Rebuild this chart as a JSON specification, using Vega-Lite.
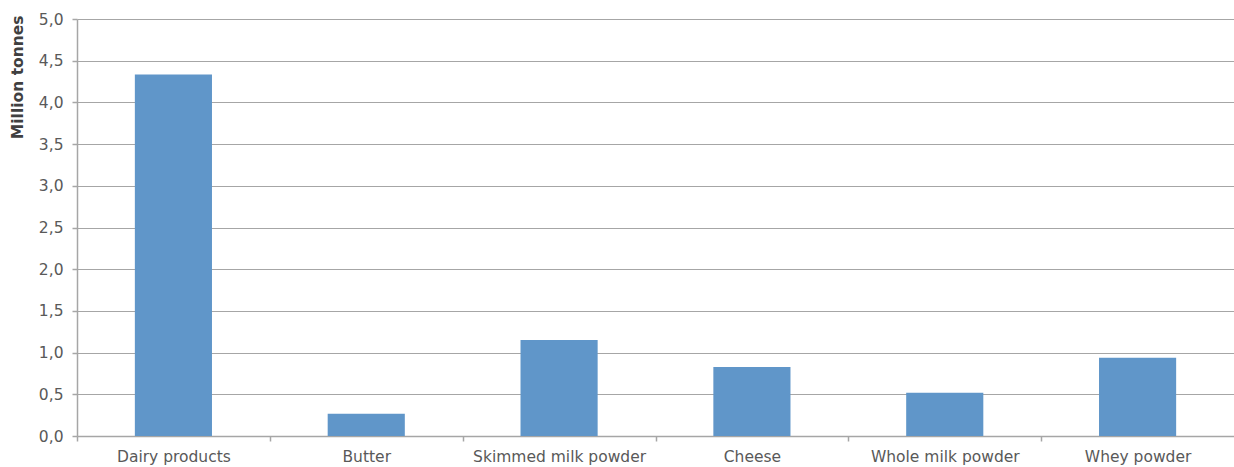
{
  "$schema": "https://vega.github.io/schema/vega-lite/v6.json",
  "autosize": "none",
  "width": 1157,
  "height": 417,
  "padding": {"left": 77, "top": 19, "right": 0, "bottom": 31},
  "background": "white",
  "data": {
    "values": [
      {"product": "Dairy products", "tonnes": 4.335},
      {"product": "Butter", "tonnes": 0.267},
      {"product": "Skimmed milk powder", "tonnes": 1.151},
      {"product": "Cheese", "tonnes": 0.827},
      {"product": "Whole milk powder", "tonnes": 0.519},
      {"product": "Whey powder", "tonnes": 0.939}
    ]
  },
  "config": {
    "view": {"stroke": null},
    "font": "DejaVu Sans",
    "axis": {
      "labelFont": "DejaVu Sans",
      "labelColor": "#595959",
      "labelFontSize": 15.5,
      "domainColor": "#a6a6a6",
      "tickColor": "#a6a6a6",
      "gridColor": "#a6a6a6",
      "domainWidth": 1.5,
      "tickWidth": 1.5,
      "gridWidth": 1.2
    }
  },
  "mark": {"type": "bar", "color": "#6096c9"},
  "encoding": {
    "x": {
      "field": "product",
      "type": "nominal",
      "sort": null,
      "scale": {"paddingInner": 0.6, "paddingOuter": 0.3},
      "axis": {
        "title": null,
        "labelAngle": 0,
        "tickOffset": -96.4,
        "labelOffset": 96.4,
        "tickSize": 5,
        "labelPadding": 8,
        "grid": false
      }
    },
    "y": {
      "field": "tonnes",
      "type": "quantitative",
      "scale": {"domain": [0, 5], "nice": false},
      "axis": {
        "values": [0, 0.5, 1, 1.5, 2, 2.5, 3, 3.5, 4, 4.5, 5],
        "labelExpr": "replace(format(datum.value, '.1f'), '.', ',')",
        "tickSize": 5,
        "labelPadding": 9,
        "grid": true,
        "title": "Million tonnes",
        "titleFont": "DejaVu Sans",
        "titleFontSize": 15.5,
        "titleFontWeight": "bold",
        "titleColor": "#404040",
        "titleAnchor": "end",
        "titleAngle": -90,
        "titleX": -60,
        "titleY": -4,
        "titleAlign": "right",
        "titleBaseline": "middle"
      }
    }
  }
}
